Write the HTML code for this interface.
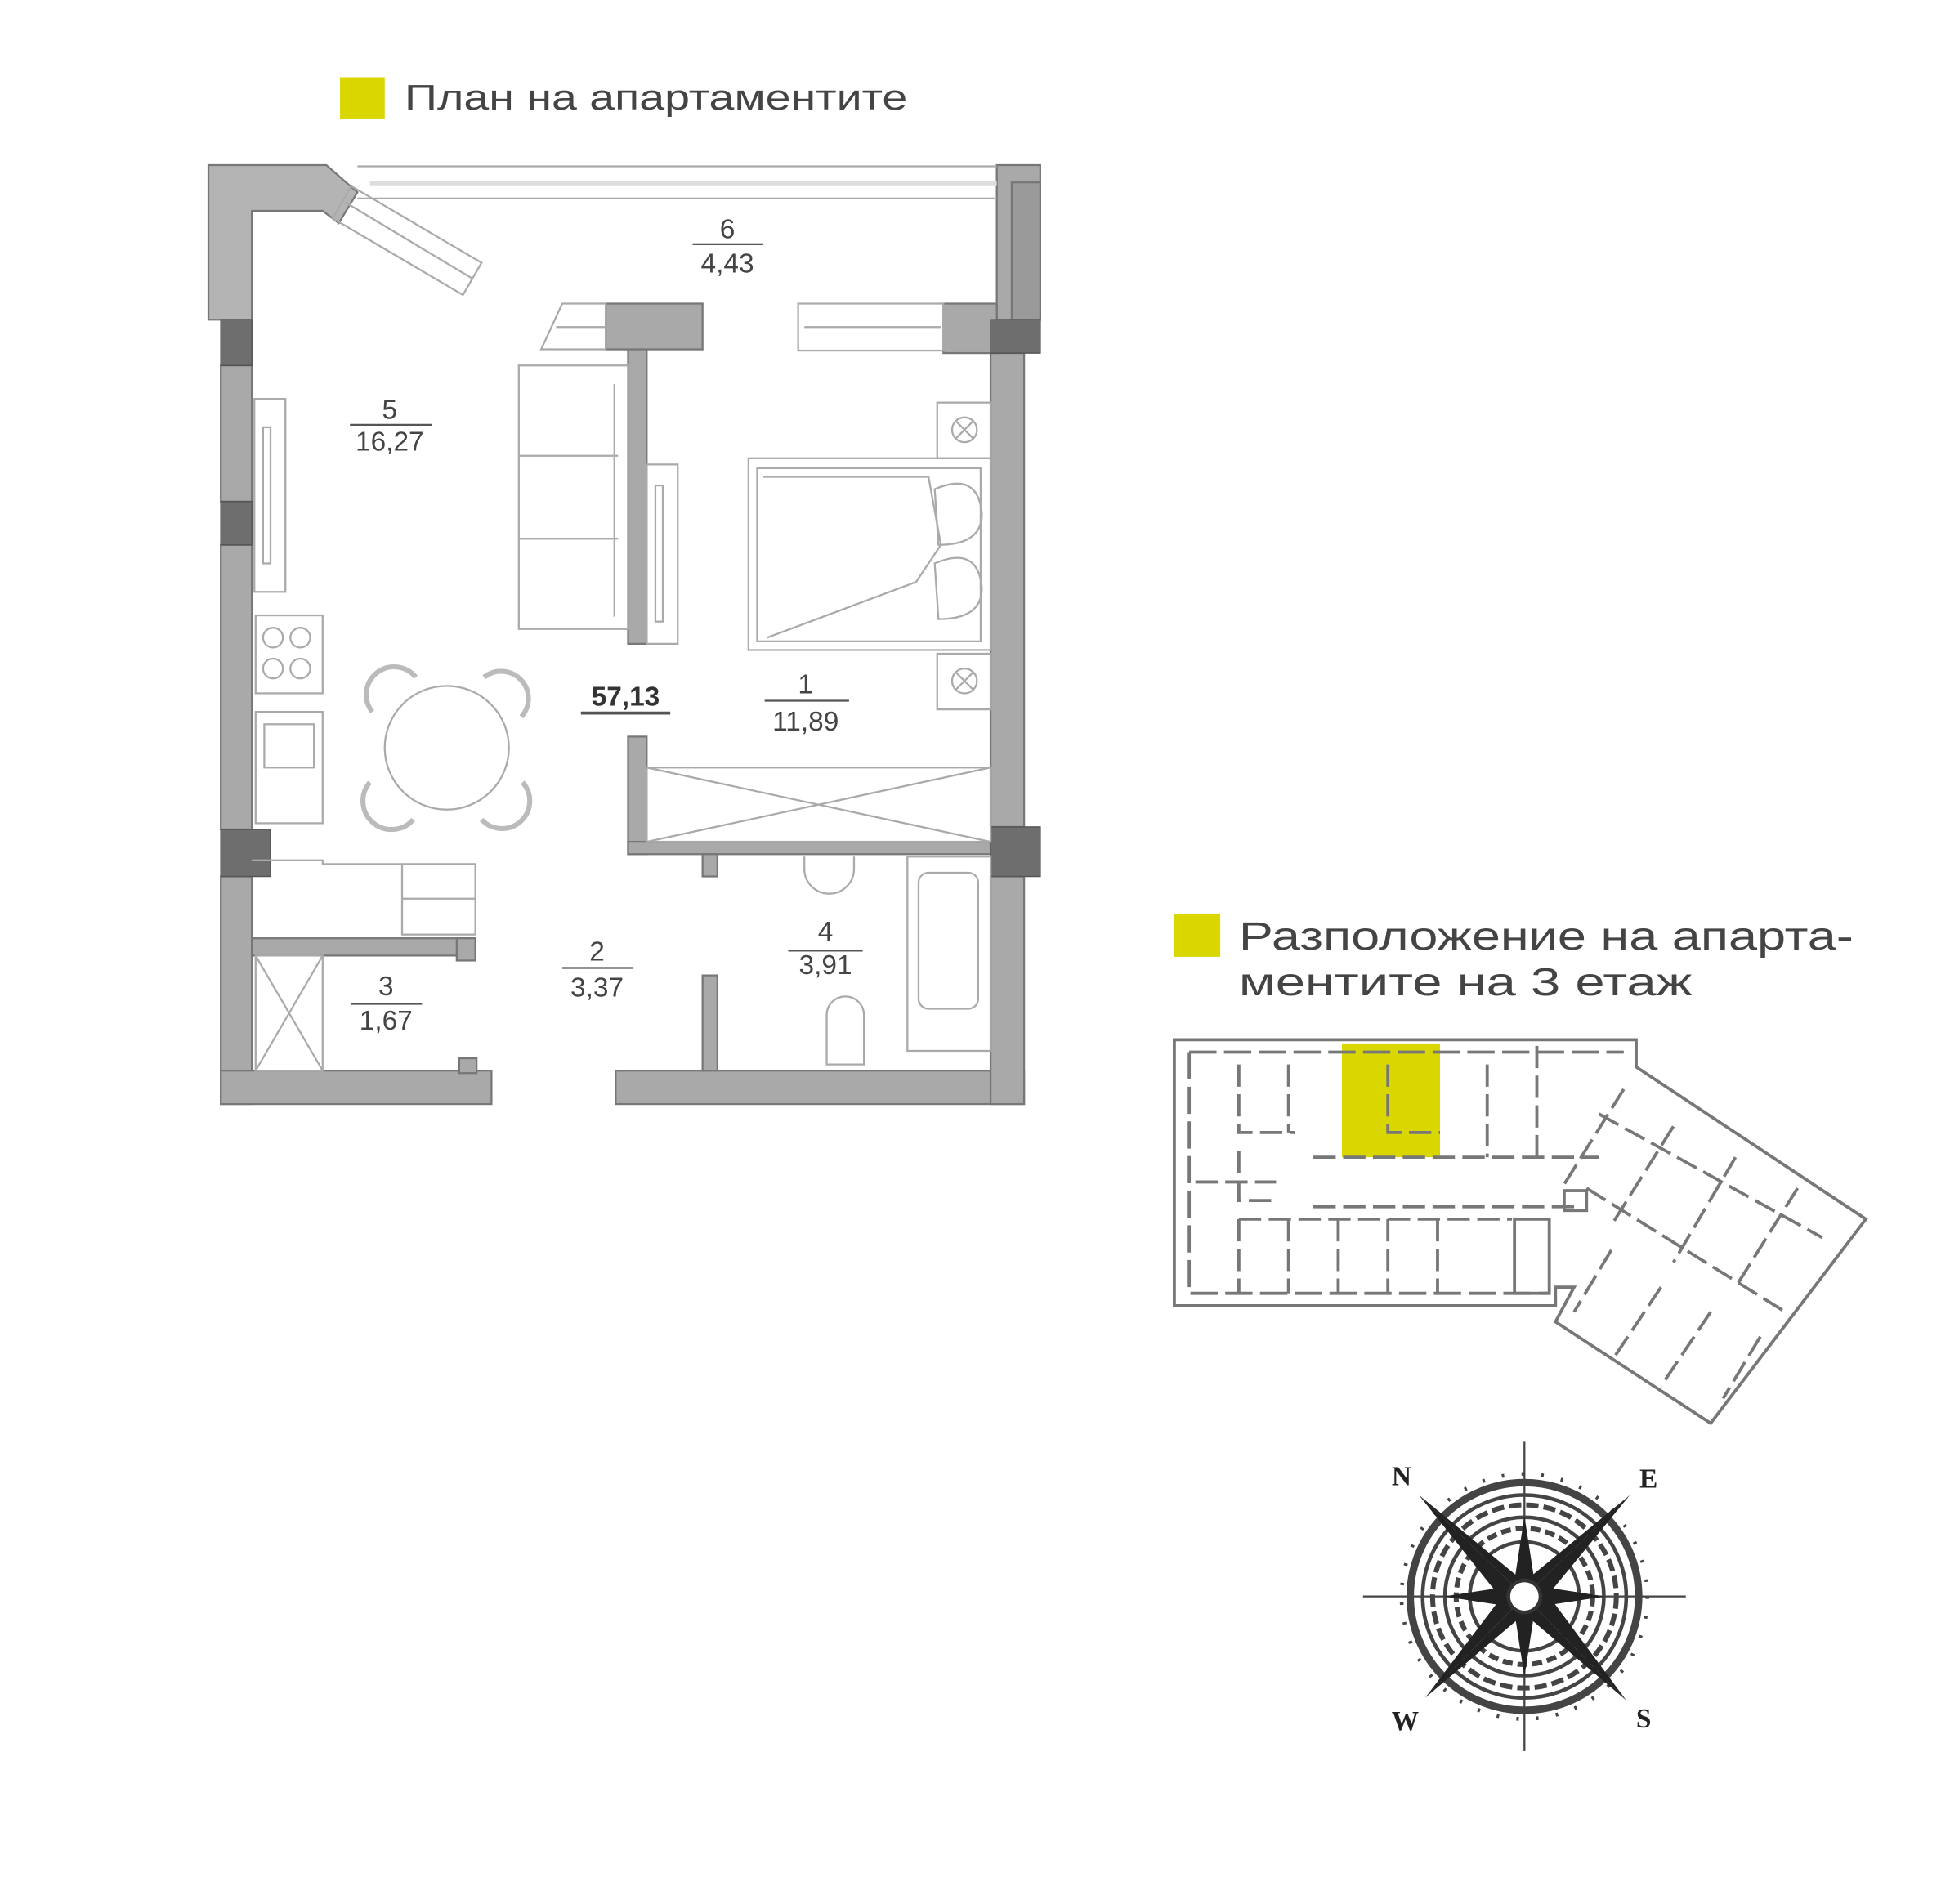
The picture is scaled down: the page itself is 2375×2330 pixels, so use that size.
<!DOCTYPE html>
<html><head><meta charset="utf-8"><style>html,body{margin:0;padding:0;background:#fff}svg{display:block}</style></head>
<body>
<svg width="2375" height="2330" viewBox="0 0 1552 1523" preserveAspectRatio="none" xmlns="http://www.w3.org/2000/svg" font-family="Liberation Sans, DejaVu Sans, sans-serif">
<rect width="1552" height="1523" fill="#fff"/>
<g transform="translate(-2.1,0.4) scale(0.9927,0.9896)">
<rect x="276" y="62" width="36" height="34" fill="#d9d600"/>
<text x="328" y="88" font-size="29" fill="#444" textLength="405" lengthAdjust="spacingAndGlyphs">План на апартаментите</text>

<g fill="#a9a9a9" stroke="#777" stroke-width="1.5">
<path d="M170,133 L265,133 L290,155 L275,180 L262,170 L205,170 L205,258 L180,258 L180,258 L170,258 Z" fill="#b4b4b4"/>
<rect x="180" y="295" width="25" height="110"/>
<rect x="180" y="440" width="25" height="230"/>
<rect x="180" y="708" width="25" height="184"/>
<rect x="180" y="865" width="218" height="27"/>
<rect x="372" y="855" width="14" height="12"/>
<rect x="498" y="865" width="329" height="27"/>
<rect x="800" y="285" width="27" height="383"/>
<rect x="800" y="708" width="27" height="184"/>
<path d="M805,133 L840,133 L840,258 L805,258 Z"/>
<rect x="817" y="147" width="23" height="111" fill="#9a9a9a"/>
<rect x="490" y="245" width="78" height="37"/>
<rect x="508" y="282" width="15" height="238"/>
<rect x="762" y="245" width="43" height="40"/>
<rect x="508" y="595" width="15" height="95"/>
<rect x="508" y="680" width="292" height="10"/>
<rect x="568" y="690" width="12" height="18"/>
<rect x="568" y="788" width="12" height="77"/>
<rect x="205" y="758" width="180" height="14"/>
<rect x="370" y="758" width="15" height="18"/>
</g>
<g fill="#6e6e6e" stroke="#555">
<rect x="180" y="258" width="25" height="37"/>
<rect x="180" y="405" width="25" height="35"/>
<rect x="180" y="670" width="40" height="38"/>
<rect x="800" y="258" width="40" height="27"/>
<rect x="800" y="668" width="40" height="40"/>
</g>
<g fill="none" stroke="#aaa" stroke-width="1.5">
<line x1="290" y1="134" x2="805" y2="134"/>
<line x1="290" y1="160" x2="805" y2="160"/>
<line x1="300" y1="148" x2="805" y2="148" stroke="#ddd" stroke-width="4"/>
<path d="M285,150 L390,212 L375,238 L270,176 Z"/>
<line x1="280" y1="163" x2="383" y2="225"/>
<path d="M455,245 L490,245 L490,282 L438,282 Z"/>
<line x1="450" y1="264" x2="490" y2="264"/>
<rect x="645" y="245" width="117" height="38"/>
<line x1="650" y1="264" x2="760" y2="264"/>
<rect x="207" y="322" width="25" height="156"/>
<rect x="214" y="345" width="6" height="110"/>
<rect x="523" y="375" width="25" height="145"/>
<rect x="530" y="392" width="6" height="110"/>
<rect x="420" y="295" width="88" height="213"/>
<line x1="420" y1="368" x2="500" y2="368"/>
<line x1="420" y1="435" x2="500" y2="435"/>
<line x1="497" y1="310" x2="497" y2="498"/>
<rect x="605" y="370" width="195" height="155"/>
<rect x="612" y="378" width="180" height="140"/>
<path d="M617,385 L750,385 L760,440 L740,470 L620,515"/>
<path d="M755,395 q35,-15 38,20 q0,25 -35,25 z M755,455 q35,-15 38,20 q0,25 -35,25 z"/>
<rect x="757" y="325" width="43" height="45"/>
<rect x="757" y="528" width="43" height="45"/>
<circle cx="779" cy="347" r="10"/><path d="M772,340 l14,14 M786,340 l-14,14"/>
<circle cx="779" cy="550" r="10"/><path d="M772,543 l14,14 M786,543 l-14,14"/>
<circle cx="362" cy="604" r="50"/>
<path d="M302,575 a22,22 0 0 1 35,-28 M392,547 a22,22 0 0 1 30,32 M300,632 a22,22 0 0 0 35,30 M390,662 a22,22 0 0 0 33,-30" stroke-width="4" stroke="#bbb"/>
<rect x="208" y="497" width="54" height="63"/>
<circle cx="222" cy="515" r="8"/><circle cx="244" cy="515" r="8"/><circle cx="222" cy="540" r="8"/><circle cx="244" cy="540" r="8"/>
<rect x="208" y="575" width="54" height="90"/>
<rect x="215" y="585" width="40" height="35"/>
<polyline points="205,695 262,695 262,698 326,698"/>
<rect x="326" y="698" width="59" height="57"/>
<line x1="326" y1="726" x2="385" y2="726"/>
<rect x="523" y="620" width="277" height="60"/>
<path d="M523,620 L800,680 M523,680 L800,620"/>
<rect x="733" y="692" width="67" height="157"/>
<rect x="742" y="705" width="48" height="110" rx="8"/>
<path d="M650,692 l0,10 a20,20 0 0 0 40,0 l0,-10"/>
<path d="M668,860 l0,-40 a15,15 0 0 1 30,0 l0,40 z"/>
<rect x="208" y="772" width="54" height="93"/>
<path d="M208,772 L262,865 M262,772 L208,865"/>
</g>
<g font-size="22" fill="#444" text-anchor="middle">
<text x="588" y="192">6</text><text x="588" y="220">4,43</text>
<text x="316" y="338">5</text><text x="316" y="364">16,27</text>
<text x="651" y="560">1</text><text x="651" y="590">11,89</text>
<text x="483" y="776">2</text><text x="483" y="805">3,37</text>
<text x="313" y="804">3</text><text x="313" y="832">1,67</text>
<text x="667" y="760">4</text><text x="667" y="787">3,91</text>
<text x="506" y="570" font-weight="bold" fill="#333">57,13</text>
</g>
<g stroke="#555" stroke-width="1.5">
<line x1="560" y1="197" x2="617" y2="197"/>
<line x1="284" y1="343" x2="350" y2="343"/>
<line x1="618" y1="566" x2="686" y2="566"/>
<line x1="455" y1="782" x2="512" y2="782"/>
<line x1="285" y1="811" x2="342" y2="811"/>
<line x1="637" y1="768" x2="697" y2="768"/>
<line x1="470" y1="576" x2="542" y2="576" stroke-width="2.5"/>
</g>

<rect x="948" y="738" width="37" height="35" fill="#d9d600"/>
<text x="1000" y="767" font-size="32" fill="#444" textLength="495" lengthAdjust="spacingAndGlyphs">Разположение на апарта-</text>
<text x="1000" y="804" font-size="32" fill="#444" textLength="365" lengthAdjust="spacingAndGlyphs">ментите на 3 етаж</text>

<rect x="1083" y="843" width="79" height="92" fill="#d9d600"/>
<g fill="none" stroke="#777" stroke-width="2.5">
<path d="M948,840 L1320,840 L1320,862 L1505,985 L1380,1150 L1255,1068 L1270,1040 L1255,1040 L1255,1055 L948,1055 Z"/>
<path d="M960,850 L1310,850 M960,850 L960,1045 L1250,1045" stroke-dasharray="22,6"/>
<path d="M1000,860 L1000,915 L1045,915 M1040,860 L1040,915 M1120,860 L1120,915 L1162,915 M1200,860 L1200,935 M1240,845 L1240,935 M1060,935 L1290,935 M1060,975 L1275,975 M965,955 L1030,955 M1000,930 L1000,970 L1030,970 M1000,985 L1000,1045 M1040,985 L1040,1045 M1080,985 L1080,1045 M1120,985 L1120,1045 M1160,985 L1160,1045 M1000,985 L1220,985" stroke-dasharray="18,6"/>
<rect x="1222" y="985" width="28" height="60"/>
<path d="M1290,900 L1470,1000 M1280,960 L1440,1060 M1310,880 L1260,960 M1350,910 L1300,990 M1400,935 L1350,1020 M1450,960 L1400,1040 M1300,1010 L1270,1060 M1340,1040 L1300,1100 M1380,1060 L1340,1120 M1420,1080 L1390,1130" stroke-dasharray="18,6"/>
<rect x="1262" y="962" width="18" height="16"/>
</g>

<g stroke="#444" fill="none">
<line x1="1100" y1="1290" x2="1360" y2="1290" stroke-width="1.5"/>
<line x1="1230" y1="1165" x2="1230" y2="1415" stroke-width="1.5"/>
<circle cx="1230" cy="1290" r="92" stroke-width="6"/>
<circle cx="1230" cy="1290" r="82" stroke-width="3"/>
<circle cx="1230" cy="1290" r="74" stroke-width="4" stroke-dasharray="10,4"/>
<circle cx="1230" cy="1290" r="64" stroke-width="3"/>
<circle cx="1230" cy="1290" r="55" stroke-width="4" stroke-dasharray="8,4"/>
<circle cx="1230" cy="1290" r="44" stroke-width="3"/>
<circle cx="1230" cy="1290" r="99" stroke-width="3" stroke-dasharray="2,14"/>
</g>
<g fill="#222">
<polygon points="1145,1208 1222,1282 1238,1298 1232,1280"/>
<polygon points="1145,1208 1222,1282 1210,1290"/>
<polygon points="1315,1208 1238,1282 1222,1298 1248,1290"/>
<polygon points="1315,1208 1238,1282 1230,1278"/>
<polygon points="1150,1372 1222,1298 1238,1282 1212,1290"/>
<polygon points="1150,1372 1222,1298 1230,1304"/>
<polygon points="1312,1374 1238,1298 1222,1282 1230,1304"/>
<polygon points="1312,1374 1238,1298 1250,1290"/>
<polygon points="1230,1225 1240,1290 1220,1290"/>
<polygon points="1230,1355 1240,1290 1220,1290"/>
<polygon points="1165,1290 1230,1280 1230,1300"/>
<polygon points="1295,1290 1230,1280 1230,1300"/>
</g>
<circle cx="1230" cy="1290" r="13" fill="#fff" stroke="#333" stroke-width="3"/>
<g font-family="Liberation Serif, serif" font-weight="bold" font-size="22" fill="#222" text-anchor="middle">
<text x="1131" y="1200">N</text><text x="1330" y="1202">E</text>
<text x="1134" y="1398">W</text><text x="1326" y="1396">S</text>
</g>
</g>
</svg>
</body></html>
